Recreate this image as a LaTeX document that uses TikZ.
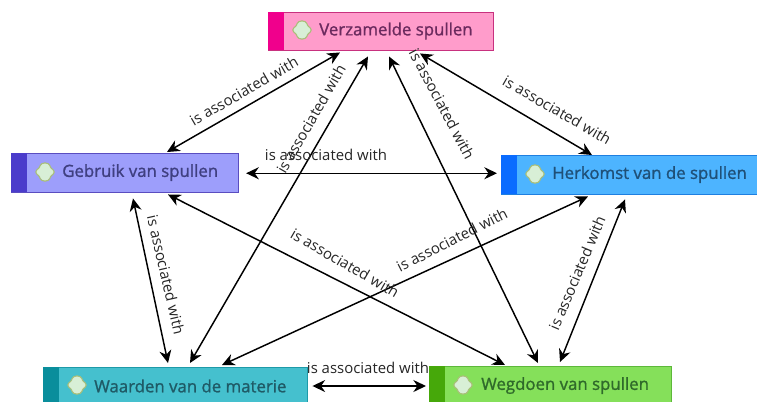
\documentclass[tikz,border=0pt]{standalone}
\usepackage{fontspec}
\setmainfont{Open Sans}
\newfontfamily\titlefont[FakeBold=1.2]{Open Sans}
\usetikzlibrary{arrows.meta,calc}
\definecolor{vfill}{HTML}{FF9CCB}\definecolor{vedge}{HTML}{C8317F}\definecolor{vbar}{HTML}{F0008C}\definecolor{vtext}{HTML}{6B2A5E}
\definecolor{gfill}{HTML}{9D9EFB}\definecolor{gedge}{HTML}{5A4DC0}\definecolor{gbar}{HTML}{4B3CCB}\definecolor{gtext}{HTML}{3F3F80}
\definecolor{hfill}{HTML}{4DB4FF}\definecolor{hedge}{HTML}{1E7FE0}\definecolor{hbar}{HTML}{0A6CFF}\definecolor{htext}{HTML}{1F5078}
\definecolor{wfill}{HTML}{45C0CE}\definecolor{wedge}{HTML}{1E9AA8}\definecolor{wbar}{HTML}{0A8E9C}\definecolor{wtext}{HTML}{1F5A66}
\definecolor{dfill}{HTML}{85E05A}\definecolor{dedge}{HTML}{5DB83A}\definecolor{dbar}{HTML}{46A80A}\definecolor{dtext}{HTML}{2F6A2A}
\definecolor{iconfill}{HTML}{D8EFD6}\definecolor{iconedge}{HTML}{A9BE78}
\tikzset{
  px/.style={x=0.75pt,y=-0.75pt},
  box/.style={anchor=north west,inner sep=0pt,line width=1.1pt},
  bartag/.style={anchor=north west,inner sep=0pt,minimum width=12pt},
  title/.style={anchor=west,inner sep=0pt,font=\fontsize{12.6}{14}\titlefont},
  icon/.style={fill=iconfill,draw=iconedge,line width=0.8pt,rounded corners=1pt},
  link/.style={{Stealth[length=9.5pt,width=9pt]}-{Stealth[length=9.5pt,width=9pt]},line width=1.1pt,black},
  rel/.style={inner sep=0pt,font=\fontsize{11.2}{13}\selectfont,text=black!85}
}
\newcommand{\iconat}[1]{\draw[icon] ($(#1)+(-9,-2)$) -- ++(3,-1.5) -- ++(1.5,-4) -- ++(2.5,-1.5) -- ++(4,0) -- ++(2.5,1.5) -- ++(1.5,4) -- ++(3,1.5) -- ++(0,4) -- ++(-3,1.5) -- ++(-1.5,4) -- ++(-2.5,1.5) -- ++(-4,0) -- ++(-2.5,-1.5) -- ++(-1.5,-4) -- ++(-3,-1.5) -- cycle;}
\begin{document}
\begin{tikzpicture}[px]
\useasboundingbox (0,0) rectangle (757,401);
\clip (0,0) rectangle (757,401);
% boxes
\node[box,draw=vedge,fill=vfill,minimum width=168.75pt,minimum height=28.5pt] (v) at (268,12) {};
\node[bartag,fill=vbar,minimum height=28.5pt] (vb) at (268,12) {};
\node[box,draw=gedge,fill=gfill,minimum width=170.25pt,minimum height=29.25pt] (g) at (11,153) {};
\node[bartag,fill=gbar,minimum height=29.25pt] (gb) at (11,153) {};
\node[box,draw=hedge,fill=hfill,minimum width=192pt,minimum height=29.25pt] (h) at (501,155) {};
\node[bartag,fill=hbar,minimum height=29.25pt] (hb) at (501,155) {};
\node[box,draw=wedge,fill=wfill,minimum width=198pt,minimum height=30pt] (w) at (43,367) {};
\node[bartag,fill=wbar,minimum height=30pt] (wb) at (43,367) {};
\node[box,draw=dedge,fill=dfill,minimum width=181.5pt,minimum height=30pt] (d) at (429,366) {};
\node[bartag,fill=dbar,minimum height=30pt] (db) at (429,366) {};
% icons and titles
\coordinate (vi) at (302,30); \iconat{vi}
\node[title,text=vtext] (vt) at (319,31) {Verzamelde spullen};
\coordinate (gi) at (45,172); \iconat{gi}
\node[title,text=gtext] (gt) at (62,172.5) {Gebruik van spullen};
\coordinate (hi) at (535,174); \iconat{hi}
\node[title,text=htext] (ht) at (552,174.5) {Herkomst van de spullen};
\coordinate (wi) at (77,385); \iconat{wi}
\node[title,text=wtext] (wt) at (94,386) {Waarden van de materie};
\coordinate (di) at (463,385); \iconat{di}
\node[title,text=dtext] (dt) at (481,385.5) {Wegdoen van spullen};
% connectors
\draw[link] ([shift={(72,1)}]v.south west) -- ([shift={(156,-1)}]g.north west);
\draw[link] ([shift={(100,5)}]v.south west) -- ([shift={(147,-4)}]w.north west);
\draw[link] ([shift={(121,5)}]v.south west) -- ([shift={(109,-3)}]d.north west);
\draw[link] ([shift={(152,2)}]v.south west) -- ([shift={(91,0)}]h.north west);
\draw[link] ([xshift=5]g.east) -- ([xshift=-3,yshift=1.5]h.west);
\draw[link] ([shift={(122,5)}]g.south west) -- ([shift={(125,-4)}]w.north west);
\draw[link] ([shift={(157,1)}]g.south west) -- ([shift={(76,-1)}]d.north west);
\draw[link] ([shift={(87,1)}]h.south west) -- ([shift={(179,-2)}]w.north west);
\draw[link] ([shift={(124,4)}]h.south west) -- ([shift={(131,-4)}]d.north west);
\draw[link] ([shift={(4,19)}]w.north east) -- ([shift={(-3,20)}]d.north west);
% labels
\node[rel,rotate=30] (l1) at (244,91) {is associated with};
\node[rel,rotate=60] (l2) at (311,119) {is associated with};
\node[rel,rotate=-62] (l3) at (442,104) {is associated with};
\node[rel,rotate=-30] (l4) at (557,110) {is associated with};
\node[rel] (l5) at (326,155) {is associated with};
\node[rel,rotate=-77] (l6) at (166,275) {is associated with};
\node[rel,rotate=-30] (l7) at (345,263) {is associated with};
\node[rel,rotate=27] (l8) at (452,240) {is associated with};
\node[rel,rotate=67] (l9) at (577,273) {is associated with};
\node[rel] (l10) at (368,368) {is associated with};
\end{tikzpicture}
\end{document}
